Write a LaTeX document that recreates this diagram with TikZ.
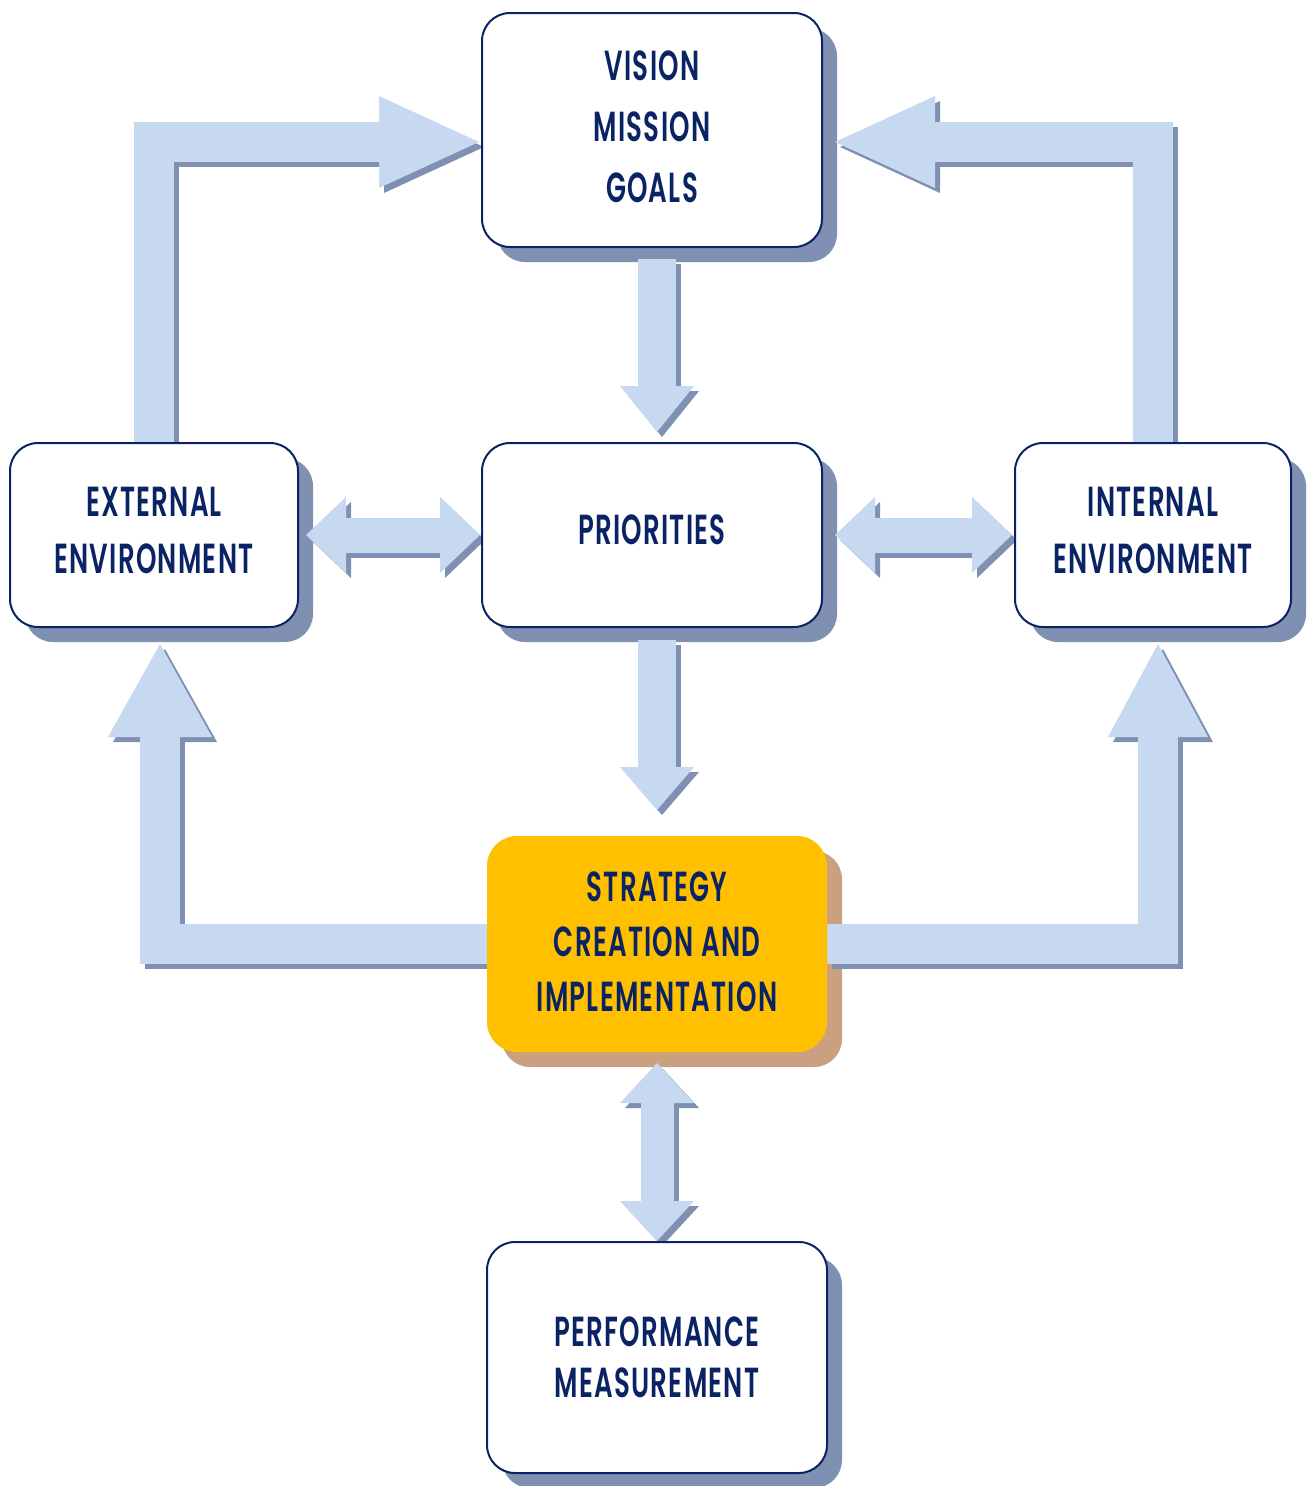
\documentclass[tikz,border=0pt]{standalone}
\usepackage{fontspec}
\newfontfamily\labfont{Poppins}[UprightFont=* SemiBold, FakeStretch=0.62, LetterSpace=3]
\usetikzlibrary{arrows.meta}

\definecolor{navy}{RGB}{10,35,100}
\definecolor{arrowfill}{RGB}{198,217,241}
\definecolor{arrowshade}{RGB}{128,144,178}
\definecolor{boxshade}{RGB}{128,144,178}
\definecolor{gold}{RGB}{255,192,0}
\definecolor{goldshade}{RGB}{202,160,128}

\pgfdeclarelayer{shadowlayer}
\pgfdeclarelayer{arrowlayer}
\pgfsetlayers{shadowlayer,arrowlayer,main}

% block arrow with a hard offset shadow underneath
\newcommand\blockarrow[2]{%
  \draw[arrowshade, transform canvas={xshift=5pt,yshift=-5pt}, #1] #2;
  \draw[arrowfill, #1] #2;}

% rounded shadow behind a named box
\newcommand\boxshadow[2]{%
  \fill[#2, rounded corners=28pt]
    ([xshift=15pt,yshift=-15pt]#1.south west) rectangle
    ([xshift=15pt,yshift=-15pt]#1.north east);}

% a little extra room under the last line, so the caps sit centred
\newcommand\lift[1][10pt]{\\[\dimexpr #1-\baselineskip\relax]\mbox{}}

\tikzset{
  box/.style={draw=navy, line width=2pt, rounded corners=28pt, fill=white,
    align=center, text=navy, inner sep=0pt, outer sep=0pt},
  goldbox/.style={box, draw=none, fill=gold, rounded corners=30pt},
  lab/.style={font=\labfont\fontsize{42}{#1}\selectfont},
}

\begin{document}
\begin{tikzpicture}[x=1pt,y=-1pt]
\useasboundingbox (0,0) rectangle (1316,1486);

% boxes
\node[box, lab=61, minimum width=340pt, minimum height=234pt] (vis) at (652,130)
  {VISION\\MISSION\\GOALS\lift[6pt]};
\node[box, lab=57, minimum width=340pt, minimum height=184pt] (pri) at (652,535)
  {PRIORITIES\lift};
\node[box, lab=57, minimum width=288pt, minimum height=184pt] (ext) at (154,535)
  {EXTERNAL\\ENVIRONMENT\lift};
\node[box, lab=57, minimum width=276pt, minimum height=184pt] (int) at (1153,535)
  {INTERNAL\\ENVIRONMENT\lift};
\node[goldbox, lab=55, minimum width=340pt, minimum height=216pt] (strat) at (657,944)
  {STRATEGY\\CREATION AND\\IMPLEMENTATION\lift[4pt]};
\node[box, lab=51, minimum width=340pt, minimum height=231pt] (perf) at (657,1357.5)
  {PERFORMANCE\\MEASUREMENT\lift[0pt]};

% box shadows
\begin{pgfonlayer}{shadowlayer}
  \boxshadow{vis}{boxshade}
  \boxshadow{pri}{boxshade}
  \boxshadow{ext}{boxshade}
  \boxshadow{int}{boxshade}
  \boxshadow{strat}{goldshade}
  \boxshadow{perf}{boxshade}
\end{pgfonlayer}

% connectors
\begin{pgfonlayer}{arrowlayer}
  % environments feed the vision
  \blockarrow{line width=40pt, line join=miter,
    -{Triangle[width=92pt,length=100pt,line width=0pt]}}
    {(ext.north) |- ([xshift=-3pt,yshift=-12pt]vis.west)}
  \blockarrow{line width=40pt, line join=miter,
    -{Triangle[width=92pt,length=100pt,line width=0pt]}}
    {(int.north) |- ([xshift=13pt,yshift=-12pt]vis.east)}
  % vision -> priorities -> strategy
  \blockarrow{line width=38pt,
    -{Triangle[width=74pt,length=46pt,line width=0pt]}}
    {([xshift=5pt,yshift=-12pt]vis.south) -- ([xshift=5pt,yshift=11pt]pri.north)}
  \blockarrow{line width=38pt,
    -{Triangle[width=74pt,length=43pt,line width=0pt]}}
    {([xshift=5pt,yshift=-13pt]pri.south) -- ([yshift=26pt]strat.north)}
  % two-way links around priorities
  \blockarrow{line width=35pt,
    {Triangle[width=76pt,length=40pt,line width=0pt]}-{Triangle[width=76pt,length=40pt,line width=0pt]}}
    {([xshift=8pt]ext.east) -- ([xshift=-2pt]pri.west)}
  \blockarrow{line width=35pt,
    {Triangle[width=76pt,length=40pt,line width=0pt]}-{Triangle[width=76pt,length=40pt,line width=0pt]}}
    {([xshift=13pt]pri.east) -- ([xshift=-3pt]int.west)}
  % strategy <-> performance
  \blockarrow{line width=33pt,
    {Triangle[width=74pt,length=40pt,line width=0pt]}-{Triangle[width=74pt,length=40pt,line width=0pt]}}
    {([yshift=-11pt]strat.south) -- ([yshift=1pt]perf.north)}
  % strategy feeds back to the environments
  \blockarrow{line width=40pt, line join=miter,
    -{Triangle[width=104pt,length=93pt,line width=0pt]}}
    {(strat.west) -| ([xshift=6pt,yshift=-17pt]ext.south)}
  \blockarrow{line width=40pt, line join=miter,
    -{Triangle[width=100pt,length=93pt,line width=0pt]}}
    {(strat.east) -| ([xshift=5pt,yshift=-17pt]int.south)}
\end{pgfonlayer}
\end{tikzpicture}
\end{document}
